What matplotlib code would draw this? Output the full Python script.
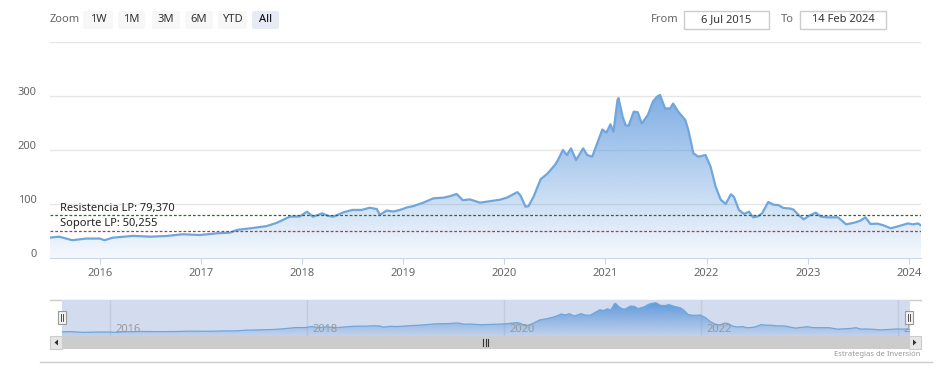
import numpy as np
import matplotlib
matplotlib.use('Agg')
import matplotlib.pyplot as plt
from matplotlib.patches import FancyBboxPatch, Rectangle, Polygon
from matplotlib.transforms import ScaledTranslation

plt.rcParams['font.family'] = ['Noto Sans', 'DejaVu Sans']

# price series (decimal year, price)
years = [2015.50, 2015.60, 2015.73, 2015.87, 2016.00, 2016.05, 2016.13, 2016.33, 2016.50,
         2016.66, 2016.82, 2016.99, 2017.16, 2017.29, 2017.36, 2017.49, 2017.65, 2017.75,
         2017.88, 2017.98, 2018.05, 2018.11, 2018.20, 2018.26, 2018.31, 2018.41, 2018.50,
         2018.59, 2018.67, 2018.74, 2018.77, 2018.84, 2018.90, 2018.97, 2019.04, 2019.10,
         2019.20, 2019.30, 2019.40, 2019.47, 2019.53, 2019.59, 2019.66, 2019.76, 2019.83,
         2019.89, 2019.96, 2020.03, 2020.09, 2020.13, 2020.16, 2020.21, 2020.24, 2020.29,
         2020.36, 2020.43, 2020.50, 2020.53, 2020.58, 2020.62, 2020.66, 2020.71, 2020.78,
         2020.82, 2020.87, 2020.92, 2020.97, 2021.01, 2021.05, 2021.08, 2021.12, 2021.13,
         2021.17, 2021.20, 2021.23, 2021.28, 2021.32, 2021.36, 2021.42, 2021.47, 2021.51,
         2021.54, 2021.59, 2021.64, 2021.67, 2021.72, 2021.79, 2021.82, 2021.87, 2021.92,
         2021.99, 2022.04, 2022.09, 2022.14, 2022.19, 2022.24, 2022.27, 2022.32, 2022.37,
         2022.42, 2022.46, 2022.51, 2022.55, 2022.61, 2022.66, 2022.71, 2022.76, 2022.83,
         2022.86, 2022.91, 2022.96, 2023.01, 2023.08, 2023.13, 2023.20, 2023.30, 2023.35,
         2023.38, 2023.46, 2023.52, 2023.57, 2023.62, 2023.69, 2023.75, 2023.82, 2023.90,
         2023.99, 2024.04, 2024.09, 2024.12]
prices = [37.6, 39.5, 33.0, 36.0, 36.0, 33.0, 37.6, 41.0, 39.5,
          40.7, 44.0, 42.6, 45.7, 47.0, 52.0, 55.0, 59.0, 65.0,
          76.5, 77.0, 85.8, 76.5, 82.7, 78.0, 76.5, 84.6, 89.0,
          89.0, 93.0, 90.7, 80.0, 88.0, 86.0, 89.0, 93.8, 96.0,
          102.5, 110.5, 111.7, 114.8, 118.5, 107.0, 108.6, 102.5, 104.3,
          106.0, 108.0, 112.0, 118.0, 122.0, 116.0, 95.0, 96.0, 113.5,
          145.7, 156.8, 172.0, 181.0, 200.0, 190.7, 203.0, 181.5, 203.0,
          190.7, 187.6, 213.0, 238.0, 232.0, 247.6, 234.0, 293.0, 296.0,
          262.0, 246.0, 245.0, 271.0, 270.0, 249.0, 265.0, 289.5, 298.7,
          302.0, 277.0, 277.0, 286.0, 271.0, 255.6, 237.0, 193.8, 187.6,
          190.7, 169.0, 132.0, 108.0, 100.0, 118.0, 113.5, 89.0, 81.5,
          85.8, 75.3, 77.2, 83.0, 103.7, 98.8, 98.0, 92.6, 91.5,
          89.5, 79.6, 71.6, 77.8, 84.0, 76.5, 75.3, 75.3, 67.3,
          62.3, 65.4, 69.0, 75.3, 63.0, 63.6, 60.5, 55.0, 59.0,
          64.0, 62.3, 64.0, 60.5]

resistencia = 79.370
soporte = 50.255
x_start, x_end = 2015.51, 2024.12
year_ticks = [2016, 2017, 2018, 2019, 2020, 2021, 2022, 2023, 2024]
y_ticks = [0, 100, 200, 300]
nav_ticks = [2016, 2018, 2020, 2022, 2024]
zoom_buttons = ['1W', '1M', '3M', '6M', 'YTD', 'All']
date_from = '6 Jul 2015'
date_to = '14 Feb 2024'

W, H = 941, 379
fig = plt.figure(figsize=(W / 100, H / 100), dpi=100)


def rect(x0, y0, x1, y1):
    return [x0 / W, 1 - y1 / H, (x1 - x0) / W, (y1 - y0) / H]


def gradient_fill(ax, x, y, ymax, rgb, a_top, a_bot):
    poly = ax.fill_between(x, y, 0, facecolor='none', edgecolor='none')
    grad = np.zeros((256, 1, 4))
    grad[:, 0, :3] = np.array(rgb) / 255
    grad[:, 0, 3] = np.linspace(a_top, a_bot, 256)
    im = ax.imshow(grad, extent=[x_start, x_end, 0, ymax], aspect='auto',
                   interpolation='bilinear', zorder=1)
    im.set_clip_path(poly.get_paths()[0], ax.transData)


# background layer in pixel coordinates
bg = fig.add_axes([0, 0, 1, 1], zorder=0)
bg.set_xlim(0, W)
bg.set_ylim(H, 0)
bg.axis('off')

bg.text(50, 20, 'Zoom', fontsize=8, color='#666666', va='center', ha='left')
bx = [83, 118, 152, 185, 218, 252]
bw = [30, 27, 28, 28, 29, 27]
for lab, x0, w in zip(zoom_buttons, bx, bw):
    sel = lab == 'All'
    bg.add_patch(FancyBboxPatch((x0, 11), w, 18, boxstyle='round,pad=0,rounding_size=2',
                                fc='#e6ebf5' if sel else '#f7f7f7', ec='none'))
    bg.text(x0 + w / 2, 20, lab, fontsize=8, color='#000000' if sel else '#333333',
            fontweight='bold' if sel else 'normal', ha='center', va='center')

bg.text(665, 20, 'From', fontsize=8, color='#666666', ha='center', va='center')
bg.add_patch(Rectangle((684, 11), 85, 18, fc='white', ec='#cccccc', lw=1))
bg.text(726.5, 20, date_from, fontsize=8, color='#333333', ha='center', va='center')
bg.text(787, 20, 'To', fontsize=8, color='#666666', ha='center', va='center')
bg.add_patch(Rectangle((800, 11), 86, 18, fc='white', ec='#cccccc', lw=1))
bg.text(843, 20, date_to, fontsize=8, color='#333333', ha='center', va='center')

# navigator outline and scrollbar
bg.plot([50, 921], [300, 300], color='#cccccc', lw=1)
bg.add_patch(Rectangle((50, 336), 871, 13, fc='#f2f2f2', ec='none'))
bg.add_patch(Rectangle((62, 336), 847, 13, fc='#cccccc', ec='none'))
bg.add_patch(Rectangle((50, 336), 12, 13, fc='#e6e6e6', ec='#cccccc', lw=0.8))
bg.add_patch(Rectangle((909, 336), 12, 13, fc='#e6e6e6', ec='#cccccc', lw=0.8))
bg.add_patch(Polygon([[58, 339.5], [58, 345.5], [54.5, 342.5]], fc='#333333', ec='none'))
bg.add_patch(Polygon([[913, 339.5], [913, 345.5], [916.5, 342.5]], fc='#333333', ec='none'))
for xr in [483.5, 486, 488.5]:
    bg.plot([xr, xr], [339, 346], color='#333333', lw=0.8)
bg.plot([40, 932], [362, 362], color='#cccccc', lw=1)
bg.text(921, 355, 'Estrategias de Inversión', fontsize=5.5, color='#999999',
        ha='right', va='center')

# main chart
ax = fig.add_axes(rect(50, 42, 921, 258), zorder=1)
ax.set_facecolor('none')
ax.set_xlim(x_start, x_end)
ax.set_ylim(0, 400)
for v in [100, 200, 300, 400]:
    ax.axhline(v, color='#e6e6e6', lw=1, zorder=0)
gradient_fill(ax, years, prices, 400, (90, 150, 220), 1.0, 0.06)
ax.plot(years, prices, color='#6fa6dc', lw=1.6, zorder=3)
ax.axhline(resistencia, color='#2d6b2d', lw=0.9, ls=(0, (2.2, 1.6)), zorder=4)
ax.axhline(soporte, color='#c0304a', lw=0.9, ls=(0, (2.2, 1.6)), zorder=4)
ax.text(10 / 871, resistencia + 3, 'Resistencia LP: 79,370', transform=ax.get_yaxis_transform(),
        fontsize=8, color='#222222', va='bottom', ha='left', zorder=5)
ax.text(10 / 871, soporte + 3, 'Soporte LP: 50,255', transform=ax.get_yaxis_transform(),
        fontsize=8, color='#222222', va='bottom', ha='left', zorder=5)

for s in ['top', 'right', 'left']:
    ax.spines[s].set_visible(False)
ax.spines['bottom'].set_color('#ccd6eb')
ax.set_xticks(year_ticks)
ax.set_xticklabels([str(y) for y in year_ticks])
ax.tick_params(axis='x', length=4, color='#ccd6eb', labelcolor='#666666', labelsize=8, pad=3)
ax.set_yticks(y_ticks)
ax.set_yticklabels([str(v) for v in y_ticks])
ax.tick_params(axis='y', length=0, labelcolor='#666666', labelsize=8, pad=9.5)
for lab in ax.get_yticklabels():
    lab.set_transform(lab.get_transform() + ScaledTranslation(0, 5 / 100, fig.dpi_scale_trans))

# navigator
nav = fig.add_axes(rect(62, 300, 910, 336), zorder=1)
nav.set_facecolor('#d3dcee')
nav.set_xlim(x_start, x_end)
nav.set_ylim(0, 327)
for t in nav_ticks:
    nav.axvline(t, color='#c3ccdf', lw=1, zorder=0)
gradient_fill(nav, years, prices, 327, (90, 150, 220), 1.0, 0.15)
nav.plot(years, prices, color='#6fa6dc', lw=0.9, zorder=3)
for t in nav_ticks:
    lab = str(t) if t < 2024 else '2…'
    nav.text(t + 0.05, 55, lab, fontsize=8, color='#999999', ha='left', va='center', zorder=4,
             clip_on=True)
nav.set_xticks([])
nav.set_yticks([])
for s in nav.spines.values():
    s.set_visible(False)

# navigator handles, drawn above everything
top = fig.add_axes([0, 0, 1, 1], zorder=3)
top.set_xlim(0, W)
top.set_ylim(H, 0)
top.axis('off')
for hx in [62, 909]:
    top.add_patch(Rectangle((hx - 4, 311), 8, 13, fc='#f2f2f2', ec='#999999', lw=0.8))
    for dx in [-1.2, 1.2]:
        top.plot([hx + dx, hx + dx], [314, 321], color='#333333', lw=0.6)

fig.savefig('out.png', dpi=100)
